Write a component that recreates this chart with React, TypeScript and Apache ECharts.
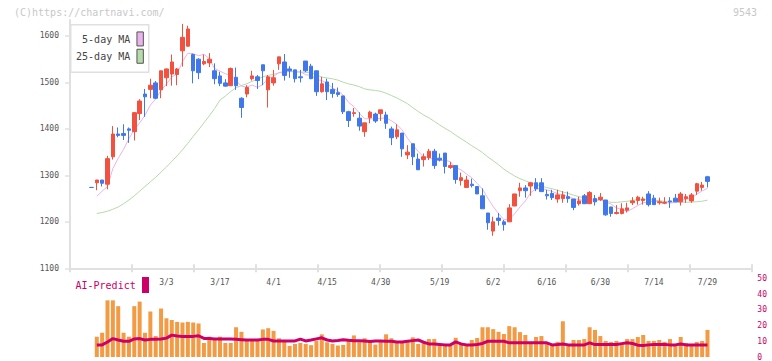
import React, { useEffect, useRef } from "react";
import * as echarts from "echarts";

// Trading days shown on the chart
const dates = [
  "2/7", "2/10", "2/12", "2/13", "2/14", "2/17", "2/18", "2/19", "2/20", "2/21", "2/25", "2/26", "2/27", "2/28",
  "3/3", "3/4", "3/5", "3/6", "3/7", "3/10", "3/11", "3/12", "3/13", "3/14", "3/17", "3/18", "3/19", "3/21",
  "3/24", "3/25", "3/26", "3/27", "3/28", "3/31",
  "4/1", "4/2", "4/3", "4/4", "4/7", "4/8", "4/9", "4/10", "4/11", "4/14", "4/15", "4/16", "4/17", "4/18",
  "4/21", "4/22", "4/23", "4/24", "4/25", "4/28", "4/30",
  "5/1", "5/2", "5/7", "5/8", "5/9", "5/12", "5/13", "5/14", "5/15", "5/16", "5/19", "5/20", "5/21", "5/22",
  "5/23", "5/26", "5/27", "5/28", "5/29", "5/30",
  "6/2", "6/3", "6/4", "6/5", "6/6", "6/9", "6/10", "6/11", "6/12", "6/13", "6/16", "6/17", "6/18", "6/19",
  "6/20", "6/23", "6/24", "6/25", "6/26", "6/27", "6/30",
  "7/1", "7/2", "7/3", "7/4", "7/7", "7/8", "7/9", "7/10", "7/11", "7/14", "7/15", "7/16", "7/17", "7/18",
  "7/22", "7/23", "7/24", "7/25", "7/28", "7/29",
];

const opens = [
  1274, 1284, 1290, 1281, 1340, 1389, 1390, 1400, 1394, 1433, 1475, 1485, 1499, 1484, 1510, 1518, 1517, 1568, 1578, 1560,
  1550, 1540, 1542, 1525, 1514, 1499, 1493, 1511, 1466, 1475, 1508, 1512, 1538, 1484, 1499, 1540, 1544, 1529, 1527, 1512,
  1546, 1535, 1525, 1480, 1501, 1485, 1478, 1471, 1437, 1433, 1423, 1394, 1424, 1432, 1433, 1430, 1400, 1383, 1391, 1344,
  1368, 1335, 1334, 1338, 1352, 1337, 1348, 1317, 1321, 1289, 1274, 1281, 1276, 1256, 1219, 1180, 1208, 1200, 1200, 1234,
  1267, 1273, 1277, 1284, 1284, 1259, 1261, 1249, 1250, 1254, 1249, 1239, 1256, 1239, 1250, 1248, 1247, 1232, 1218, 1218,
  1225, 1241, 1246, 1246, 1260, 1251, 1241, 1240, 1245, 1251, 1243, 1250, 1245, 1266, 1274, 1297,
];
const highs = [
  1275, 1290, 1290, 1342, 1406, 1403, 1410, 1403, 1436, 1464, 1486, 1508, 1503, 1525, 1530, 1560, 1531, 1626, 1622, 1562,
  1552, 1560, 1563, 1541, 1523, 1507, 1532, 1532, 1468, 1494, 1525, 1516, 1538, 1516, 1527, 1555, 1561, 1535, 1527, 1527,
  1546, 1540, 1525, 1512, 1508, 1499, 1489, 1471, 1439, 1445, 1436, 1413, 1439, 1435, 1441, 1437, 1405, 1410, 1391, 1365,
  1368, 1347, 1347, 1357, 1357, 1347, 1348, 1329, 1321, 1306, 1299, 1293, 1276, 1272, 1219, 1211, 1219, 1204, 1238, 1260,
  1284, 1279, 1286, 1294, 1294, 1269, 1269, 1269, 1266, 1265, 1249, 1254, 1260, 1266, 1258, 1262, 1247, 1232, 1236, 1240,
  1241, 1253, 1256, 1254, 1266, 1258, 1252, 1253, 1253, 1260, 1264, 1260, 1262, 1284, 1286, 1299,
];
const lows = [
  1273, 1268, 1276, 1270, 1334, 1382, 1376, 1370, 1375, 1419, 1426, 1466, 1464, 1466, 1492, 1493, 1494, 1534, 1577, 1498,
  1507, 1537, 1533, 1496, 1492, 1491, 1493, 1484, 1424, 1468, 1504, 1486, 1494, 1446, 1493, 1527, 1504, 1510, 1500, 1500,
  1522, 1507, 1471, 1478, 1462, 1467, 1469, 1432, 1404, 1426, 1396, 1383, 1412, 1413, 1417, 1400, 1365, 1378, 1340, 1335,
  1322, 1312, 1319, 1333, 1314, 1330, 1304, 1314, 1282, 1278, 1273, 1274, 1260, 1228, 1183, 1170, 1192, 1181, 1200, 1234,
  1254, 1252, 1256, 1266, 1265, 1248, 1247, 1241, 1241, 1241, 1225, 1235, 1239, 1239, 1235, 1245, 1213, 1211, 1216, 1216,
  1220, 1236, 1237, 1237, 1233, 1237, 1237, 1238, 1230, 1243, 1235, 1241, 1241, 1258, 1267, 1274,
];
const closes = [
  1274, 1290, 1283, 1336, 1389, 1386, 1386, 1397, 1435, 1460, 1469, 1494, 1466, 1525, 1529, 1544, 1529, 1597, 1615, 1525,
  1521, 1545, 1550, 1508, 1498, 1492, 1530, 1493, 1446, 1489, 1514, 1504, 1525, 1512, 1510, 1555, 1515, 1525, 1508, 1510,
  1525, 1508, 1480, 1497, 1480, 1476, 1474, 1437, 1418, 1435, 1406, 1413, 1436, 1417, 1441, 1412, 1381, 1398, 1357, 1350,
  1340, 1312, 1340, 1352, 1321, 1333, 1319, 1321, 1291, 1295, 1290, 1278, 1260, 1228, 1198, 1200, 1203, 1194, 1230, 1260,
  1273, 1267, 1284, 1271, 1265, 1256, 1252, 1258, 1258, 1250, 1231, 1245, 1239, 1263, 1243, 1253, 1215, 1218, 1220, 1228,
  1230, 1245, 1253, 1249, 1237, 1237, 1243, 1242, 1243, 1243, 1260, 1254, 1258, 1282, 1279, 1287,
];

// Moving-average values before enough closes are on the chart
const ma5Lead = [null, 1255, 1266, 1276];
const ma25Lead = [
  null, 1218, 1220, 1223, 1227, 1232, 1239, 1247, 1256, 1266, 1276, 1286,
  1296, 1307, 1318, 1330, 1342, 1355, 1369, 1384, 1398, 1413, 1428, 1444,
];

// AI-Predict panel
const predictBars = [
  null, 12.9, 15.4, 36, 36, 32.3, 15.4, 12.9, 32.3, 35.2, 15.4, 28.9, 13.3, 30.8, 24.6, 23.5, 22.3, 21.9, 22.3, 21.9,
  21.3, 8.9, 12.9, 11.9, 12.9, 8.9, 8.9, 18.9, 16, 11.4, 11.4, 10.4, 17.5, 18.3, 16.6, 11.9, 10.4, 7.1, 8.3, 8.9,
  8.3, 7.5, 10.4, 14.4, 9.4, 8.3, 7.3, 7.7, 10.4, 13.7, 9.4, 11.9, 9.4, 7.9, 10.8, 14.4, 11.9, 9.4, 8.9, 9.4,
  12.5, 8.3, 9.4, 11.4, 11.4, 8.3, 8.3, 7, 12.2, 8.9, 8.3, 10.8, 12.1, 18.9, 18.9, 17.7, 16, 14.6, 19.6, 18.9,
  15.8, 14, 8.9, 12.7, 13.3, 8.9, 7.9, 9.6, 22.7, 7.7, 10.8, 10.8, 11.4, 18.9, 17.2, 13.3, 10.2, 9.6, 10.2, 8.3,
  11.4, 11.4, 12.7, 14, 10.2, 10.2, 10.8, 9.6, 11.4, 8.3, 12.7, 8.9, 7, 9.6, 10.2, 17.2,
];
const predictLine = [
  null, 7.7, 7.7, 9.5, 11.7, 10.8, 10, 10, 11.5, 11.7, 10.8, 11.2, 11.2, 11.4, 12, 13.9, 13.3, 13.1, 13.1, 13.1,
  13.5, 11.8, 11.7, 11.5, 11.4, 11.4, 11.4, 11.2, 11, 10.8, 10.8, 10.8, 11.2, 11.2, 10.2, 10.2, 10.2, 10.2, 10.2, 11.4,
  10.2, 10.8, 11.5, 12.2, 10.8, 10.2, 10.5, 11, 10.6, 10.4, 10.4, 10.2, 9.8, 10.2, 10.2, 10, 10, 9.6, 9.6, 10,
  10.4, 10.8, 9.4, 8.3, 8.3, 8, 7.7, 7.7, 9.6, 8.3, 7.7, 7.7, 7.9, 8.6, 10, 10, 10, 10, 9, 9,
  9, 9, 9, 9, 9, 9, 7.7, 7.9, 8.3, 7.7, 7.7, 7.7, 7.7, 9, 7.9, 7.9, 7.9, 7.9, 7.9, 8.5,
  9, 8.6, 7.5, 7.3, 7.7, 8, 8, 8, 7.7, 7.7, 8.3, 7.7, 7.7, 7.7, 7.7, 7.7,
];

const dateLabels = ["3/3", "3/17", "4/1", "4/15", "4/30", "5/19", "6/2", "6/16", "6/30", "7/14", "7/29"];
const priceTicks = [1100, 1200, 1300, 1400, 1500, 1600];

const FONT = '"DejaVu Sans Mono", "Liberation Mono", monospace';
const UP = "#f2513f";
const DOWN = "#4078ec";
const PINK = "#ebb3eb";
const GREEN = "#b4dba9";
const CRIMSON = "#cc0066";
const ORANGE = "#f39a44";
const AXIS = "#e0e0e0";

const LEAD = 4;
const TAIL = 8;

function movingAverage(period: number, lead: (number | null)[]) {
  return closes.map((_, i) => {
    if (i < period - 1) return lead[i] ?? null;
    let s = 0;
    for (let k = i - period + 1; k <= i; k++) s += closes[k];
    return +(s / period).toFixed(2);
  });
}

export default function App() {
  const ref = useRef<HTMLDivElement>(null);

  useEffect(() => {
    document.body.style.margin = "0";
    if (!ref.current) return;
    const chart = echarts.init(ref.current, undefined, { renderer: "svg" });

    const cats = [
      ...Array.from({ length: LEAD }, (_, i) => `lead${i}`),
      ...dates,
      ...Array.from({ length: TAIL }, (_, i) => `tail${i}`),
    ];
    const pad = (arr: any[]) => [...Array(LEAD).fill("-"), ...arr.map((v) => (v == null ? "-" : v))];
    const candles = pad(dates.map((_, i) => [opens[i], closes[i], lows[i], highs[i]]));
    const ma5 = pad(movingAverage(5, ma5Lead));
    const ma25 = pad(movingAverage(25, ma25Lead));

    const gridTop = 20;
    const gridBottom = 268.3;
    const pxPer = 0.4647;
    const yMax = 1100 + (gridBottom - gridTop) / pxPer;
    const step = 5.357;
    const plotWidth = step * (cats.length - 1);

    const frameAxis = (inside: boolean, showLine: boolean, grid: number) => ({
      gridIndex: grid,
      type: "value",
      min: 0,
      max: 11,
      interval: 1,
      axisLine: { show: showLine, lineStyle: { color: AXIS, width: 2 } },
      axisTick: { show: true, inside, length: 4, lineStyle: { color: AXIS, width: 2 } },
      axisLabel: { show: false },
      splitLine: { show: false },
    });

    chart.setOption({
      animation: false,
      grid: [
        { left: 70, top: gridTop, width: plotWidth, height: gridBottom - gridTop },
        { left: 70, top: gridTop, width: 682, height: gridBottom - gridTop },
        { left: 70, top: gridTop, width: 682, height: gridBottom - gridTop },
        { left: 70, top: 278.3, width: plotWidth, height: 80 },
      ],
      xAxis: [
        {
          gridIndex: 0,
          type: "category",
          data: cats,
          boundaryGap: false,
          axisLine: { show: false },
          axisTick: { show: false },
          splitLine: { show: false },
          axisLabel: {
            interval: (_: number, v: string) => dateLabels.includes(v),
            margin: 10,
            fontFamily: FONT,
            fontSize: 8,
            color: "#555",
          },
        },
        frameAxis(true, true, 1),
        frameAxis(false, false, 2),
        { gridIndex: 3, type: "category", data: cats, boundaryGap: false, show: false },
      ],
      yAxis: [
        {
          gridIndex: 0,
          type: "value",
          min: 1100,
          max: yMax,
          interval: 100,
          axisLine: { show: true, lineStyle: { color: AXIS, width: 2 } },
          axisTick: { show: true, length: 5, customValues: priceTicks, lineStyle: { color: AXIS, width: 1.5 } },
          axisLabel: {
            customValues: priceTicks,
            formatter: (v: number) => String(Math.round(v)),
            margin: 11,
            fontFamily: FONT,
            fontSize: 8,
            color: "#555",
          },
          splitLine: { show: false },
        },
        { gridIndex: 1, type: "value", show: false },
        { gridIndex: 2, type: "value", show: false },
        {
          gridIndex: 3,
          type: "value",
          position: "right",
          min: 0,
          max: 50,
          interval: 10,
          axisLine: { show: false },
          axisTick: { show: false },
          splitLine: { show: false },
          axisLabel: { margin: 7, fontFamily: FONT, fontSize: 8, color: CRIMSON },
        },
      ],
      series: [
        {
          name: "25-day MA",
          type: "line",
          xAxisIndex: 0,
          yAxisIndex: 0,
          data: ma25,
          symbol: "none",
          lineStyle: { color: GREEN, width: 1 },
          z: 2,
        },
        {
          name: "5-day MA",
          type: "line",
          xAxisIndex: 0,
          yAxisIndex: 0,
          data: ma5,
          symbol: "none",
          lineStyle: { color: PINK, width: 1 },
          z: 2,
        },
        {
          name: "price",
          type: "candlestick",
          xAxisIndex: 0,
          yAxisIndex: 0,
          data: candles,
          barWidth: 4,
          itemStyle: { color: UP, color0: DOWN, borderColor: UP, borderColor0: DOWN, borderWidth: 1 },
          z: 3,
        },
        {
          name: "predict-bars",
          type: "bar",
          xAxisIndex: 3,
          yAxisIndex: 3,
          data: pad(predictBars),
          barWidth: 4,
          itemStyle: { color: ORANGE },
        },
        {
          name: "AI-Predict",
          type: "line",
          xAxisIndex: 3,
          yAxisIndex: 3,
          data: pad(predictLine),
          symbol: "none",
          lineStyle: { color: CRIMSON, width: 3 },
          z: 3,
        },
      ],
      graphic: [
        {
          type: "text",
          left: 14,
          top: 7,
          style: { text: "(C)https://chartnavi.com/", font: `10px ${FONT}`, fill: "#c8c8c8" },
        },
        {
          type: "text",
          right: 15,
          top: 7,
          style: { text: "9543", font: `10px ${FONT}`, fill: "#c8c8c8" },
        },
        {
          type: "group",
          left: 70,
          top: 24,
          children: [
            {
              type: "rect",
              shape: { x: 0, y: 0, width: 78, height: 47.5 },
              style: { fill: "#fff", stroke: AXIS, lineWidth: 1.5 },
            },
            {
              type: "text",
              x: 59.5,
              y: 14.3,
              style: { text: "5-day MA", font: `10px ${FONT}`, fill: "#444", align: "right", verticalAlign: "middle" },
            },
            {
              type: "rect",
              shape: { x: 66.2, y: 7.2, width: 6.4, height: 14 },
              style: { fill: PINK, stroke: "#555", lineWidth: 1 },
            },
            {
              type: "text",
              x: 59.5,
              y: 31.6,
              style: { text: "25-day MA", font: `10px ${FONT}`, fill: "#444", align: "right", verticalAlign: "middle" },
            },
            {
              type: "rect",
              shape: { x: 66.2, y: 24.5, width: 6.4, height: 14 },
              style: { fill: GREEN, stroke: "#555", lineWidth: 1 },
            },
          ],
        },
        {
          type: "text",
          x: 75.5,
          y: 285.8,
          style: { text: "AI-Predict", font: `10px ${FONT}`, fill: CRIMSON, verticalAlign: "middle" },
        },
        {
          type: "rect",
          shape: { x: 142, y: 277, width: 7, height: 16 },
          style: { fill: CRIMSON },
        },
      ],
    });

    return () => chart.dispose();
  }, []);

  return <div ref={ref} style={{ width: 772, height: 361 }} />;
}
